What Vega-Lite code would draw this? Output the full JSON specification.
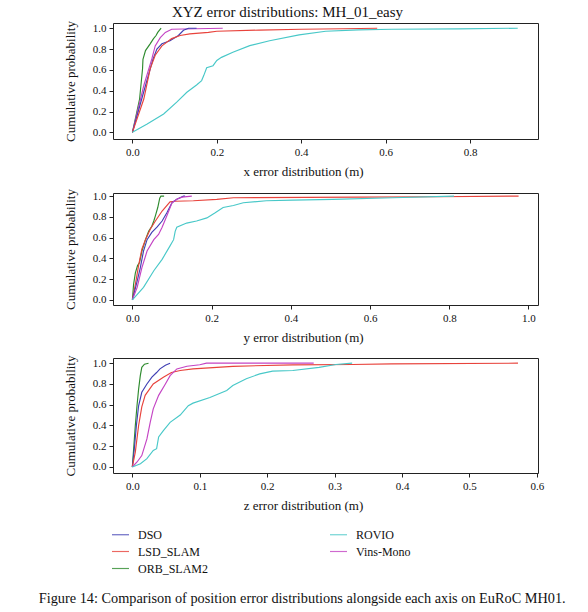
{
  "$schema": "https://vega.github.io/schema/vega-lite/v6.json",
  "padding": {"left": 38, "top": 4, "right": 0, "bottom": 0},
  "config": {
    "font": "Liberation Serif",
    "view": {"stroke": "#222222", "strokeWidth": 1},
    "axis": {"grid": false, "domain": false, "tickColor": "#222222", "tickSize": 4, "labelColor": "#111111", "labelFontSize": 11, "labelFont": "Liberation Serif", "titleFont": "Liberation Serif", "titleFontSize": 13, "titleFontWeight": "normal", "titleColor": "#111111", "labelPadding": 3},
    "axisX": {"titleX": 190, "titlePadding": 8},
    "axisY": {"titlePadding": 15},
    "line": {"strokeWidth": 1.15}
  },
  "title": {"text": "Figure 14: Comparison of position error distributions alongside each axis on EuRoC MH01.", "orient": "bottom", "anchor": "start", "font": "Liberation Serif", "fontSize": 14.3, "fontWeight": "normal", "color": "#111111", "offset": 17, "dx": -25},
  "spacing": 9,
  "resolve": {"scale": {"color": "shared"}},
  "datasets": {
    "d": [
      {"p": "x", "m": "ORB_SLAM2", "e": 0, "c": 0},
      {"p": "x", "m": "ORB_SLAM2", "e": 0.017, "c": 0.32},
      {"p": "x", "m": "ORB_SLAM2", "e": 0.024, "c": 0.61},
      {"p": "x", "m": "ORB_SLAM2", "e": 0.025, "c": 0.70},
      {"p": "x", "m": "ORB_SLAM2", "e": 0.031, "c": 0.785},
      {"p": "x", "m": "ORB_SLAM2", "e": 0.042, "c": 0.85},
      {"p": "x", "m": "ORB_SLAM2", "e": 0.05, "c": 0.9},
      {"p": "x", "m": "ORB_SLAM2", "e": 0.056, "c": 0.93},
      {"p": "x", "m": "ORB_SLAM2", "e": 0.06, "c": 0.96},
      {"p": "x", "m": "ORB_SLAM2", "e": 0.068, "c": 1.0},
      {"p": "x", "m": "Vins-Mono", "e": 0, "c": 0},
      {"p": "x", "m": "Vins-Mono", "e": 0.027, "c": 0.45},
      {"p": "x", "m": "Vins-Mono", "e": 0.046, "c": 0.705},
      {"p": "x", "m": "Vins-Mono", "e": 0.054, "c": 0.83},
      {"p": "x", "m": "Vins-Mono", "e": 0.066, "c": 0.91},
      {"p": "x", "m": "Vins-Mono", "e": 0.078, "c": 0.96},
      {"p": "x", "m": "Vins-Mono", "e": 0.093, "c": 0.99},
      {"p": "x", "m": "Vins-Mono", "e": 0.15, "c": 0.995},
      {"p": "x", "m": "Vins-Mono", "e": 0.214, "c": 1.0},
      {"p": "x", "m": "DSO", "e": 0, "c": 0},
      {"p": "x", "m": "DSO", "e": 0.031, "c": 0.45},
      {"p": "x", "m": "DSO", "e": 0.049, "c": 0.705},
      {"p": "x", "m": "DSO", "e": 0.058, "c": 0.8},
      {"p": "x", "m": "DSO", "e": 0.07, "c": 0.85},
      {"p": "x", "m": "DSO", "e": 0.089, "c": 0.88},
      {"p": "x", "m": "DSO", "e": 0.109, "c": 0.93},
      {"p": "x", "m": "DSO", "e": 0.121, "c": 0.98},
      {"p": "x", "m": "DSO", "e": 0.133, "c": 1.0},
      {"p": "x", "m": "DSO", "e": 0.152, "c": 1.0},
      {"p": "x", "m": "LSD_SLAM", "e": 0, "c": 0},
      {"p": "x", "m": "LSD_SLAM", "e": 0.027, "c": 0.32},
      {"p": "x", "m": "LSD_SLAM", "e": 0.042, "c": 0.61},
      {"p": "x", "m": "LSD_SLAM", "e": 0.054, "c": 0.74},
      {"p": "x", "m": "LSD_SLAM", "e": 0.07, "c": 0.83},
      {"p": "x", "m": "LSD_SLAM", "e": 0.093, "c": 0.9},
      {"p": "x", "m": "LSD_SLAM", "e": 0.113, "c": 0.93},
      {"p": "x", "m": "LSD_SLAM", "e": 0.136, "c": 0.945},
      {"p": "x", "m": "LSD_SLAM", "e": 0.18, "c": 0.96},
      {"p": "x", "m": "LSD_SLAM", "e": 0.2, "c": 0.971},
      {"p": "x", "m": "LSD_SLAM", "e": 0.3, "c": 0.982},
      {"p": "x", "m": "LSD_SLAM", "e": 0.4, "c": 0.99},
      {"p": "x", "m": "LSD_SLAM", "e": 0.5, "c": 0.995},
      {"p": "x", "m": "LSD_SLAM", "e": 0.58, "c": 1.0},
      {"p": "x", "m": "ROVIO", "e": 0, "c": 0},
      {"p": "x", "m": "ROVIO", "e": 0.035, "c": 0.08},
      {"p": "x", "m": "ROVIO", "e": 0.074, "c": 0.176},
      {"p": "x", "m": "ROVIO", "e": 0.105, "c": 0.29},
      {"p": "x", "m": "ROVIO", "e": 0.129, "c": 0.385},
      {"p": "x", "m": "ROVIO", "e": 0.152, "c": 0.455},
      {"p": "x", "m": "ROVIO", "e": 0.164, "c": 0.497},
      {"p": "x", "m": "ROVIO", "e": 0.169, "c": 0.545},
      {"p": "x", "m": "ROVIO", "e": 0.176, "c": 0.62},
      {"p": "x", "m": "ROVIO", "e": 0.191, "c": 0.64},
      {"p": "x", "m": "ROVIO", "e": 0.2, "c": 0.69},
      {"p": "x", "m": "ROVIO", "e": 0.211, "c": 0.72},
      {"p": "x", "m": "ROVIO", "e": 0.238, "c": 0.77},
      {"p": "x", "m": "ROVIO", "e": 0.278, "c": 0.833},
      {"p": "x", "m": "ROVIO", "e": 0.325, "c": 0.88},
      {"p": "x", "m": "ROVIO", "e": 0.395, "c": 0.936},
      {"p": "x", "m": "ROVIO", "e": 0.458, "c": 0.971},
      {"p": "x", "m": "ROVIO", "e": 0.536, "c": 0.984},
      {"p": "x", "m": "ROVIO", "e": 0.615, "c": 0.99},
      {"p": "x", "m": "ROVIO", "e": 0.772, "c": 0.994},
      {"p": "x", "m": "ROVIO", "e": 0.913, "c": 1.0},

      {"p": "y", "m": "ORB_SLAM2", "e": 0, "c": 0},
      {"p": "y", "m": "ORB_SLAM2", "e": 0.003, "c": 0.15},
      {"p": "y", "m": "ORB_SLAM2", "e": 0.0075, "c": 0.26},
      {"p": "y", "m": "ORB_SLAM2", "e": 0.013, "c": 0.33},
      {"p": "y", "m": "ORB_SLAM2", "e": 0.018, "c": 0.36},
      {"p": "y", "m": "ORB_SLAM2", "e": 0.024, "c": 0.47},
      {"p": "y", "m": "ORB_SLAM2", "e": 0.033, "c": 0.58},
      {"p": "y", "m": "ORB_SLAM2", "e": 0.041, "c": 0.66},
      {"p": "y", "m": "ORB_SLAM2", "e": 0.049, "c": 0.71},
      {"p": "y", "m": "ORB_SLAM2", "e": 0.054, "c": 0.76},
      {"p": "y", "m": "ORB_SLAM2", "e": 0.058, "c": 0.81},
      {"p": "y", "m": "ORB_SLAM2", "e": 0.064, "c": 0.89},
      {"p": "y", "m": "ORB_SLAM2", "e": 0.069, "c": 0.98},
      {"p": "y", "m": "ORB_SLAM2", "e": 0.072, "c": 1.0},
      {"p": "y", "m": "ORB_SLAM2", "e": 0.08, "c": 1.0},
      {"p": "y", "m": "LSD_SLAM", "e": 0, "c": 0},
      {"p": "y", "m": "LSD_SLAM", "e": 0.0075, "c": 0.15},
      {"p": "y", "m": "LSD_SLAM", "e": 0.016, "c": 0.34},
      {"p": "y", "m": "LSD_SLAM", "e": 0.024, "c": 0.49},
      {"p": "y", "m": "LSD_SLAM", "e": 0.033, "c": 0.58},
      {"p": "y", "m": "LSD_SLAM", "e": 0.045, "c": 0.68},
      {"p": "y", "m": "LSD_SLAM", "e": 0.058, "c": 0.76},
      {"p": "y", "m": "LSD_SLAM", "e": 0.075, "c": 0.856},
      {"p": "y", "m": "LSD_SLAM", "e": 0.095, "c": 0.945},
      {"p": "y", "m": "LSD_SLAM", "e": 0.108, "c": 0.95},
      {"p": "y", "m": "LSD_SLAM", "e": 0.154, "c": 0.955},
      {"p": "y", "m": "LSD_SLAM", "e": 0.213, "c": 0.968},
      {"p": "y", "m": "LSD_SLAM", "e": 0.255, "c": 0.984},
      {"p": "y", "m": "LSD_SLAM", "e": 0.573, "c": 0.99},
      {"p": "y", "m": "LSD_SLAM", "e": 0.765, "c": 0.994},
      {"p": "y", "m": "LSD_SLAM", "e": 0.975, "c": 1.0},
      {"p": "y", "m": "DSO", "e": 0, "c": 0},
      {"p": "y", "m": "DSO", "e": 0.012, "c": 0.18},
      {"p": "y", "m": "DSO", "e": 0.02, "c": 0.31},
      {"p": "y", "m": "DSO", "e": 0.028, "c": 0.47},
      {"p": "y", "m": "DSO", "e": 0.037, "c": 0.58},
      {"p": "y", "m": "DSO", "e": 0.049, "c": 0.65},
      {"p": "y", "m": "DSO", "e": 0.062, "c": 0.70},
      {"p": "y", "m": "DSO", "e": 0.075, "c": 0.76},
      {"p": "y", "m": "DSO", "e": 0.087, "c": 0.84},
      {"p": "y", "m": "DSO", "e": 0.1, "c": 0.936},
      {"p": "y", "m": "DSO", "e": 0.112, "c": 0.97},
      {"p": "y", "m": "DSO", "e": 0.129, "c": 1.0},
      {"p": "y", "m": "DSO", "e": 0.133, "c": 1.0},
      {"p": "y", "m": "Vins-Mono", "e": 0, "c": 0},
      {"p": "y", "m": "Vins-Mono", "e": 0.012, "c": 0.12},
      {"p": "y", "m": "Vins-Mono", "e": 0.024, "c": 0.31},
      {"p": "y", "m": "Vins-Mono", "e": 0.037, "c": 0.47},
      {"p": "y", "m": "Vins-Mono", "e": 0.054, "c": 0.58},
      {"p": "y", "m": "Vins-Mono", "e": 0.066, "c": 0.63},
      {"p": "y", "m": "Vins-Mono", "e": 0.075, "c": 0.70},
      {"p": "y", "m": "Vins-Mono", "e": 0.087, "c": 0.81},
      {"p": "y", "m": "Vins-Mono", "e": 0.1, "c": 0.936},
      {"p": "y", "m": "Vins-Mono", "e": 0.112, "c": 0.97},
      {"p": "y", "m": "Vins-Mono", "e": 0.125, "c": 0.99},
      {"p": "y", "m": "Vins-Mono", "e": 0.15, "c": 1.0},
      {"p": "y", "m": "ROVIO", "e": 0, "c": 0},
      {"p": "y", "m": "ROVIO", "e": 0.028, "c": 0.12},
      {"p": "y", "m": "ROVIO", "e": 0.054, "c": 0.28},
      {"p": "y", "m": "ROVIO", "e": 0.075, "c": 0.39},
      {"p": "y", "m": "ROVIO", "e": 0.095, "c": 0.52},
      {"p": "y", "m": "ROVIO", "e": 0.104, "c": 0.58},
      {"p": "y", "m": "ROVIO", "e": 0.108, "c": 0.66},
      {"p": "y", "m": "ROVIO", "e": 0.112, "c": 0.70},
      {"p": "y", "m": "ROVIO", "e": 0.137, "c": 0.74},
      {"p": "y", "m": "ROVIO", "e": 0.162, "c": 0.76},
      {"p": "y", "m": "ROVIO", "e": 0.188, "c": 0.79},
      {"p": "y", "m": "ROVIO", "e": 0.209, "c": 0.84},
      {"p": "y", "m": "ROVIO", "e": 0.229, "c": 0.89},
      {"p": "y", "m": "ROVIO", "e": 0.255, "c": 0.91},
      {"p": "y", "m": "ROVIO", "e": 0.28, "c": 0.936},
      {"p": "y", "m": "ROVIO", "e": 0.338, "c": 0.955},
      {"p": "y", "m": "ROVIO", "e": 0.405, "c": 0.962},
      {"p": "y", "m": "ROVIO", "e": 0.506, "c": 0.968},
      {"p": "y", "m": "ROVIO", "e": 0.657, "c": 0.984},
      {"p": "y", "m": "ROVIO", "e": 0.812, "c": 1.0},

      {"p": "z", "m": "ORB_SLAM2", "e": 0, "c": 0},
      {"p": "z", "m": "ORB_SLAM2", "e": 0.002, "c": 0.18},
      {"p": "z", "m": "ORB_SLAM2", "e": 0.0044, "c": 0.4},
      {"p": "z", "m": "ORB_SLAM2", "e": 0.0069, "c": 0.59},
      {"p": "z", "m": "ORB_SLAM2", "e": 0.0093, "c": 0.75},
      {"p": "z", "m": "ORB_SLAM2", "e": 0.0118, "c": 0.88},
      {"p": "z", "m": "ORB_SLAM2", "e": 0.014, "c": 0.96},
      {"p": "z", "m": "ORB_SLAM2", "e": 0.018, "c": 0.99},
      {"p": "z", "m": "ORB_SLAM2", "e": 0.024, "c": 1.0},
      {"p": "z", "m": "DSO", "e": 0, "c": 0},
      {"p": "z", "m": "DSO", "e": 0.003, "c": 0.18},
      {"p": "z", "m": "DSO", "e": 0.006, "c": 0.4},
      {"p": "z", "m": "DSO", "e": 0.0093, "c": 0.59},
      {"p": "z", "m": "DSO", "e": 0.014, "c": 0.72},
      {"p": "z", "m": "DSO", "e": 0.0216, "c": 0.8},
      {"p": "z", "m": "DSO", "e": 0.029, "c": 0.865},
      {"p": "z", "m": "DSO", "e": 0.036, "c": 0.91},
      {"p": "z", "m": "DSO", "e": 0.041, "c": 0.945},
      {"p": "z", "m": "DSO", "e": 0.049, "c": 0.98},
      {"p": "z", "m": "DSO", "e": 0.056, "c": 1.0},
      {"p": "z", "m": "LSD_SLAM", "e": 0, "c": 0},
      {"p": "z", "m": "LSD_SLAM", "e": 0.0044, "c": 0.144},
      {"p": "z", "m": "LSD_SLAM", "e": 0.0093, "c": 0.4},
      {"p": "z", "m": "LSD_SLAM", "e": 0.014, "c": 0.58},
      {"p": "z", "m": "LSD_SLAM", "e": 0.019, "c": 0.69},
      {"p": "z", "m": "LSD_SLAM", "e": 0.031, "c": 0.8},
      {"p": "z", "m": "LSD_SLAM", "e": 0.046, "c": 0.865},
      {"p": "z", "m": "LSD_SLAM", "e": 0.058, "c": 0.91},
      {"p": "z", "m": "LSD_SLAM", "e": 0.071, "c": 0.93},
      {"p": "z", "m": "LSD_SLAM", "e": 0.09, "c": 0.945},
      {"p": "z", "m": "LSD_SLAM", "e": 0.149, "c": 0.97},
      {"p": "z", "m": "LSD_SLAM", "e": 0.238, "c": 0.984},
      {"p": "z", "m": "LSD_SLAM", "e": 0.326, "c": 0.987},
      {"p": "z", "m": "LSD_SLAM", "e": 0.385, "c": 0.994},
      {"p": "z", "m": "LSD_SLAM", "e": 0.572, "c": 1.0},
      {"p": "z", "m": "Vins-Mono", "e": 0, "c": 0},
      {"p": "z", "m": "Vins-Mono", "e": 0.007, "c": 0.048},
      {"p": "z", "m": "Vins-Mono", "e": 0.014, "c": 0.11},
      {"p": "z", "m": "Vins-Mono", "e": 0.0216, "c": 0.27},
      {"p": "z", "m": "Vins-Mono", "e": 0.0265, "c": 0.43},
      {"p": "z", "m": "Vins-Mono", "e": 0.031, "c": 0.56},
      {"p": "z", "m": "Vins-Mono", "e": 0.039, "c": 0.69},
      {"p": "z", "m": "Vins-Mono", "e": 0.049, "c": 0.8},
      {"p": "z", "m": "Vins-Mono", "e": 0.056, "c": 0.88},
      {"p": "z", "m": "Vins-Mono", "e": 0.066, "c": 0.945},
      {"p": "z", "m": "Vins-Mono", "e": 0.081, "c": 0.97},
      {"p": "z", "m": "Vins-Mono", "e": 0.1, "c": 0.985},
      {"p": "z", "m": "Vins-Mono", "e": 0.11, "c": 1.0},
      {"p": "z", "m": "Vins-Mono", "e": 0.269, "c": 1.0},
      {"p": "z", "m": "ROVIO", "e": 0, "c": 0},
      {"p": "z", "m": "ROVIO", "e": 0.012, "c": 0.032},
      {"p": "z", "m": "ROVIO", "e": 0.0216, "c": 0.08},
      {"p": "z", "m": "ROVIO", "e": 0.031, "c": 0.16},
      {"p": "z", "m": "ROVIO", "e": 0.036, "c": 0.176},
      {"p": "z", "m": "ROVIO", "e": 0.039, "c": 0.29},
      {"p": "z", "m": "ROVIO", "e": 0.046, "c": 0.35},
      {"p": "z", "m": "ROVIO", "e": 0.056, "c": 0.43},
      {"p": "z", "m": "ROVIO", "e": 0.071, "c": 0.5},
      {"p": "z", "m": "ROVIO", "e": 0.083, "c": 0.59},
      {"p": "z", "m": "ROVIO", "e": 0.09, "c": 0.615},
      {"p": "z", "m": "ROVIO", "e": 0.115, "c": 0.67},
      {"p": "z", "m": "ROVIO", "e": 0.14, "c": 0.737},
      {"p": "z", "m": "ROVIO", "e": 0.149, "c": 0.785},
      {"p": "z", "m": "ROVIO", "e": 0.169, "c": 0.85},
      {"p": "z", "m": "ROVIO", "e": 0.189, "c": 0.897},
      {"p": "z", "m": "ROVIO", "e": 0.208, "c": 0.923},
      {"p": "z", "m": "ROVIO", "e": 0.238, "c": 0.93},
      {"p": "z", "m": "ROVIO", "e": 0.277, "c": 0.96},
      {"p": "z", "m": "ROVIO", "e": 0.302, "c": 0.987},
      {"p": "z", "m": "ROVIO", "e": 0.326, "c": 1.0}
    ]
  },
  "vconcat": [
    {
      "title": {"text": "XYZ error distributions: MH_01_easy", "fontSize": 15, "fontWeight": "normal", "font": "Liberation Serif", "color": "#111111", "offset": 1, "dx": -38},
      "width": 425,
      "height": 116,
      "data": {"name": "d"},
      "transform": [{"filter": "datum.p === 'x'"}],
      "mark": {"type": "line"},
      "encoding": {
        "x": {"field": "e", "type": "quantitative", "scale": {"domain": [-0.046, 0.961], "nice": false, "zero": false}, "axis": {"values": [0, 0.2, 0.4, 0.6, 0.8], "format": ".1f", "title": "x error distribution (m)"}},
        "y": {"field": "c", "type": "quantitative", "scale": {"domain": [-0.064, 1.05], "nice": false, "zero": false}, "axis": {"values": [0, 0.2, 0.4, 0.6, 0.8, 1.0], "format": ".1f", "title": "Cumulative probability"}},
        "color": {"field": "m", "type": "nominal",
          "scale": {"domain": ["DSO", "LSD_SLAM", "ORB_SLAM2", "ROVIO", "Vins-Mono"], "range": ["#4040b4", "#e8433c", "#2e8b2e", "#48c8c8", "#c444c4"]},
          "legend": {"title": null, "orient": "none", "legendX": -2, "legendY": 502, "columns": 2, "symbolType": "stroke", "symbolSize": 289, "symbolStrokeWidth": 1.5, "symbolOpacity": 0.8, "labelFontSize": 12, "labelFont": "Liberation Serif", "labelColor": "#111111", "labelOffset": 8, "rowPadding": 1, "columnPadding": 118}}
      }
    },
    {
      "width": 425,
      "height": 112,
      "data": {"name": "d"},
      "transform": [{"filter": "datum.p === 'y'"}],
      "mark": {"type": "line"},
      "encoding": {
        "x": {"field": "e", "type": "quantitative", "scale": {"domain": [-0.049, 1.024], "nice": false, "zero": false}, "axis": {"values": [0, 0.2, 0.4, 0.6, 0.8, 1.0], "format": ".1f", "title": "y error distribution (m)"}},
        "y": {"field": "c", "type": "quantitative", "scale": {"domain": [-0.05, 1.03], "nice": false, "zero": false}, "axis": {"values": [0, 0.2, 0.4, 0.6, 0.8, 1.0], "format": ".1f", "title": "Cumulative probability"}},
        "color": {"field": "m", "type": "nominal"}
      }
    },
    {
      "width": 425,
      "height": 115,
      "data": {"name": "d"},
      "transform": [{"filter": "datum.p === 'z'"}],
      "mark": {"type": "line"},
      "encoding": {
        "x": {"field": "e", "type": "quantitative", "scale": {"domain": [-0.0287, 0.6017], "nice": false, "zero": false}, "axis": {"values": [0, 0.1, 0.2, 0.3, 0.4, 0.5, 0.6], "format": ".1f", "title": "z error distribution (m)"}},
        "y": {"field": "c", "type": "quantitative", "scale": {"domain": [-0.058, 1.05], "nice": false, "zero": false}, "axis": {"values": [0, 0.2, 0.4, 0.6, 0.8, 1.0], "format": ".1f", "title": "Cumulative probability"}},
        "color": {"field": "m", "type": "nominal"}
      }
    }
  ]
}
